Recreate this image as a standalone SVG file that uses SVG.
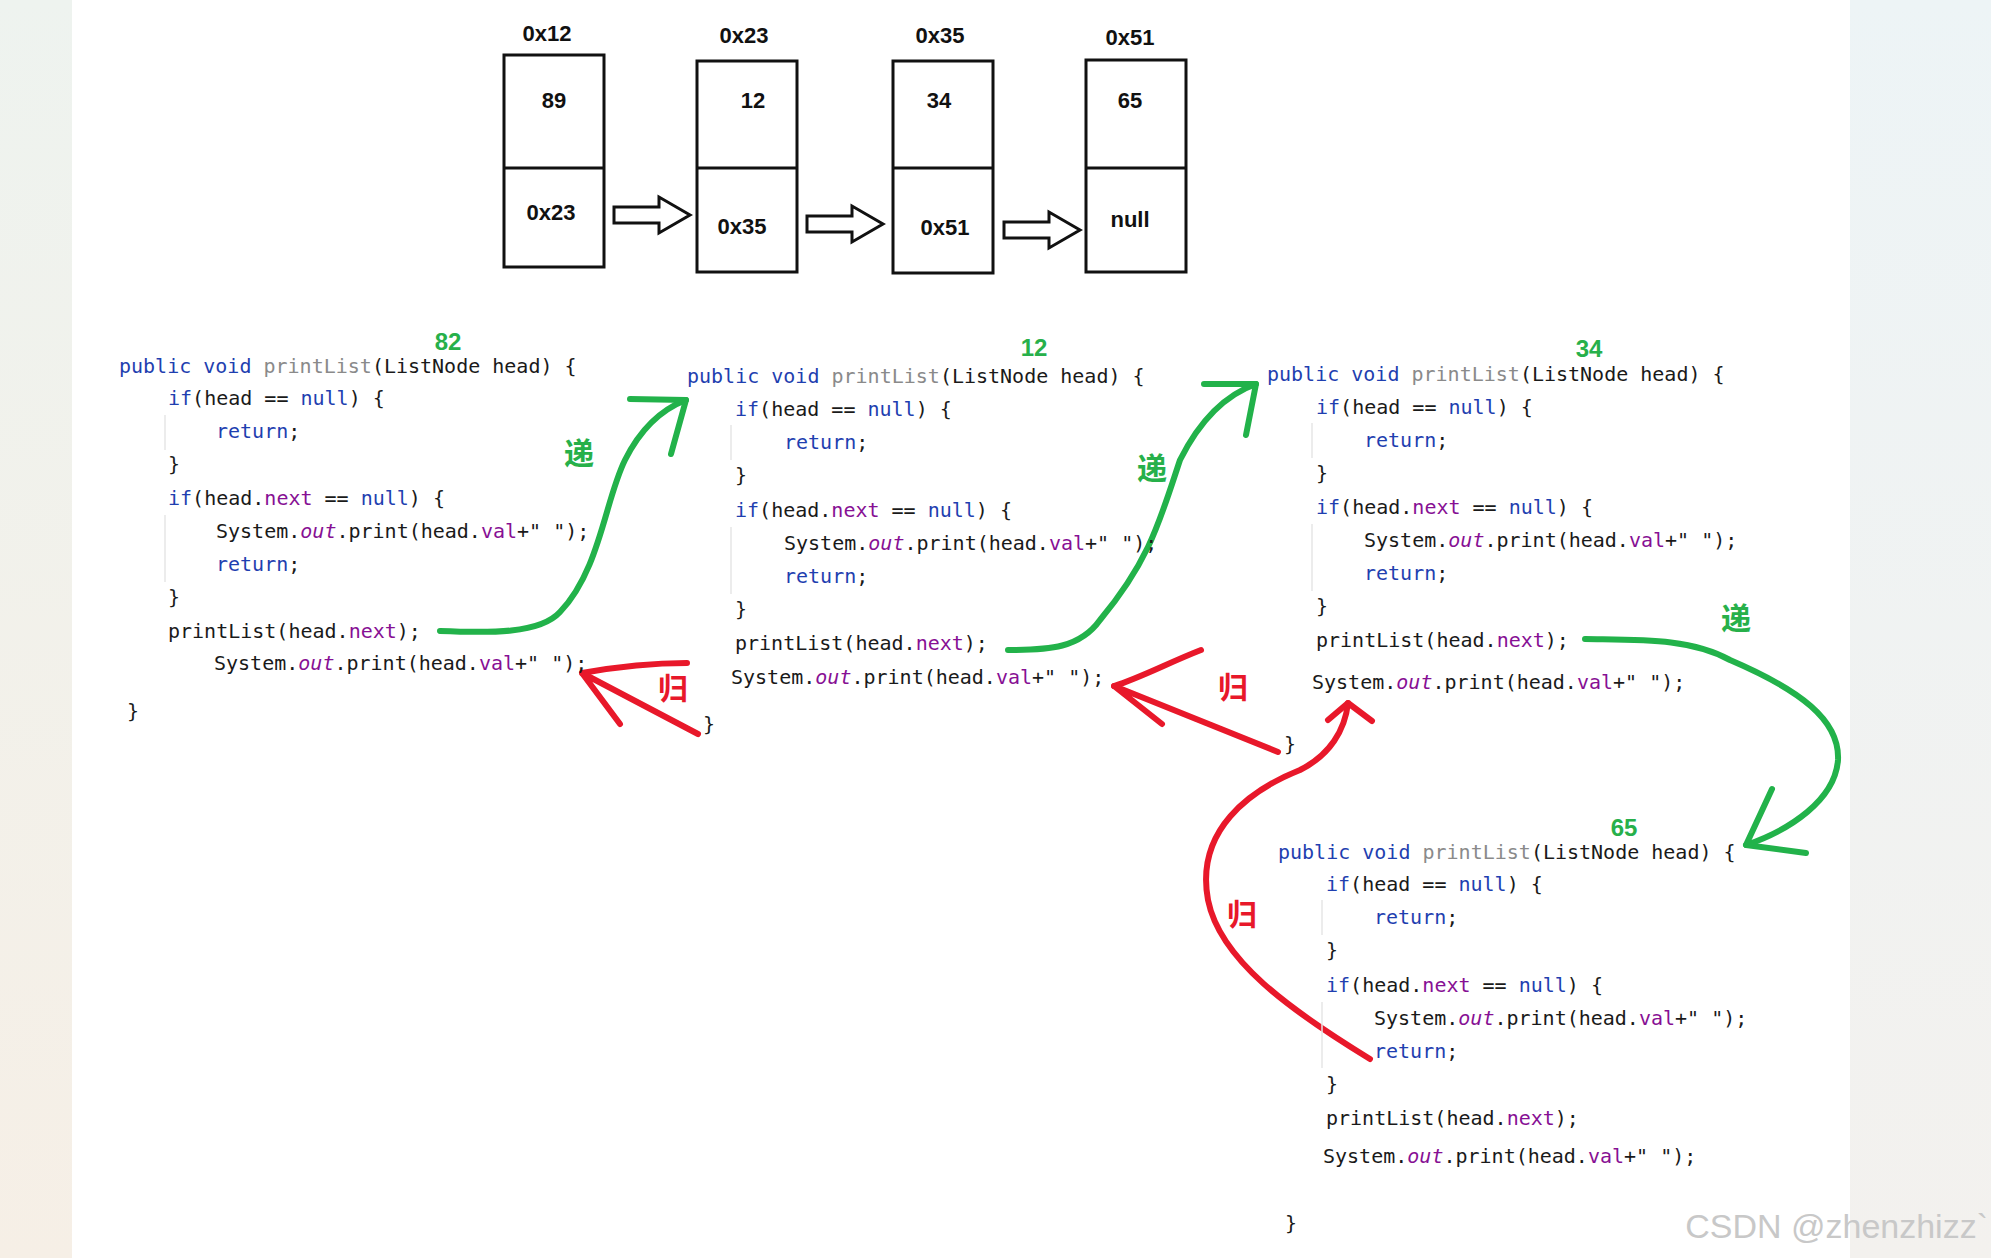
<svg xmlns="http://www.w3.org/2000/svg" width="1991" height="1258" viewBox="0 0 1991 1258">
<defs>
<linearGradient id="lg" x1="0" y1="0" x2="0" y2="1"><stop offset="0" stop-color="#eef3ef"/><stop offset="1" stop-color="#f6efe6"/></linearGradient>
<linearGradient id="rg" x1="0" y1="0" x2="0" y2="1"><stop offset="0" stop-color="#edf4f6"/><stop offset="1" stop-color="#f3f1ee"/></linearGradient>
</defs>
<style>
.box{fill:#fff;stroke:#111;stroke-width:3}
.lbl{font-family:"Liberation Sans",Arial,sans-serif;font-size:22px;font-weight:bold;fill:#111;text-anchor:middle;dominant-baseline:middle}
.code{font-family:"DejaVu Sans Mono","Liberation Mono",monospace;font-size:20px;fill:#1a1a1a}
.k{fill:#1f3fb0}.g{fill:#8a8a8a}.p{fill:#871094}.i{fill:#871094;font-style:italic}
.num{font-family:"Liberation Sans",Arial,sans-serif;font-size:24px;font-weight:bold;fill:#27b04a;text-anchor:middle}
.gr{fill:none;stroke:#22b24a;stroke-width:6;stroke-linecap:round;stroke-linejoin:round}
.rd{fill:none;stroke:#e8182a;stroke-width:6;stroke-linecap:round;stroke-linejoin:round}
.zg{font-family:"Noto Sans CJK SC",sans-serif;font-size:30px;font-weight:bold;fill:#27b04a;text-anchor:middle;dominant-baseline:middle}
.zr{font-family:"Noto Sans CJK SC",sans-serif;font-size:30px;font-weight:bold;fill:#e8182a;text-anchor:middle;dominant-baseline:middle}
.guide{stroke:#e6e6e6;stroke-width:1.5}
.hol{fill:#fff;stroke:#111;stroke-width:3;stroke-linejoin:miter}
</style>
<rect width="1991" height="1258" fill="#fff"/>
<rect x="0" y="0" width="72" height="1258" fill="url(#lg)"/>
<rect x="1850" y="0" width="141" height="1258" fill="url(#rg)"/>

<g id="node-0x12">
<text class="lbl" x="547" y="35">0x12</text>
<rect class="box" x="504" y="55" width="100" height="212"/><line class="box" x1="504" y1="168" x2="604" y2="168"/>
<text class="lbl" x="554" y="102">89</text><text class="lbl" x="551" y="214">0x23</text>
</g>
<g id="node-0x23">
<text class="lbl" x="744" y="37">0x23</text>
<rect class="box" x="697" y="61" width="100" height="211"/><line class="box" x1="697" y1="168" x2="797" y2="168"/>
<text class="lbl" x="753" y="102">12</text><text class="lbl" x="742" y="228">0x35</text>
</g>
<g id="node-0x35">
<text class="lbl" x="940" y="37">0x35</text>
<rect class="box" x="893" y="61" width="100" height="212"/><line class="box" x1="893" y1="168" x2="993" y2="168"/>
<text class="lbl" x="939" y="102">34</text><text class="lbl" x="945" y="229">0x51</text>
</g>
<g id="node-0x51">
<text class="lbl" x="1130" y="39">0x51</text>
<rect class="box" x="1086" y="60" width="100" height="212"/><line class="box" x1="1086" y1="168" x2="1186" y2="168"/>
<text class="lbl" x="1130" y="102">65</text><text class="lbl" x="1130" y="221">null</text>
</g>

<g id="connectors">
<path class="hol" d="M614 207 h45 v-10 l31 18 l-31 18 v-10 h-45 z"/>
<path class="hol" d="M807 216 h45 v-10 l31 18 l-31 18 v-10 h-45 z"/>
<path class="hol" d="M1004 222 h45 v-10 l31 18 l-31 18 v-10 h-45 z"/>

<path class="gr" d="M440 631 C490 633 540 634 560 612 C600 570 605 500 625 460 C640 430 660 410 686 400"/>
<path class="gr" d="M630 399 L686 400 L671 454"/>
<path class="gr" d="M1008 650 C1050 650 1080 648 1100 620 C1150 560 1160 520 1180 460 C1200 420 1225 395 1256 384"/>
<path class="gr" d="M1204 384 L1256 384 L1246 435"/>
<path class="gr" d="M1585 639 C1640 640 1690 638 1730 660 C1800 690 1840 720 1838 760 C1835 800 1790 830 1746 845"/>
<path class="gr" d="M1772 789 L1746 845 L1806 853"/>

<path class="rd" d="M687 663 C650 663 610 668 582 673"/>
<path class="rd" d="M698 734 L582 673 L620 724"/>
<path class="rd" d="M1201 650 C1170 662 1140 678 1114 686"/>
<path class="rd" d="M1278 752 L1114 686 L1162 724"/>
<path class="rd" d="M1370 1059 C1290 1010 1220 960 1208 900 C1195 830 1250 790 1300 770 C1330 755 1345 730 1348 703"/>
<path class="rd" d="M1328 720 L1348 703 L1372 721"/>
</g>

<g id="labels">
<text class="zg" x="579" y="456">递</text>
<text class="zg" x="1152" y="471">递</text>
<text class="zg" x="1736" y="621">递</text>
<text class="zr" x="673" y="691">归</text>
<text class="zr" x="1233" y="690">归</text>
<text class="zr" x="1242" y="917">归</text>
</g>

<g id="code-82">
<text class="num" x="448" y="350">82</text>
<line class="guide" x1="165" y1="415" x2="165" y2="450"/><line class="guide" x1="165" y1="515" x2="165" y2="582"/>
<g class="code">
<text x="119" y="373"><tspan class="k">public void </tspan><tspan class="g">printList</tspan>(ListNode head) {</text>
<text x="168" y="405"><tspan class="k">if</tspan>(head == <tspan class="k">null</tspan>) {</text>
<text x="216" y="438"><tspan class="k">return</tspan>;</text>
<text x="168" y="471">}</text>
<text x="168" y="505"><tspan class="k">if</tspan>(head.<tspan class="p">next</tspan> == <tspan class="k">null</tspan>) {</text>
<text x="216" y="538">System.<tspan class="i">out</tspan>.print(head.<tspan class="p">val</tspan>+" ");</text>
<text x="216" y="571"><tspan class="k">return</tspan>;</text>
<text x="168" y="604">}</text>
<text x="168" y="638">printList(head.<tspan class="p">next</tspan>);</text>
<text x="214" y="670">System.<tspan class="i">out</tspan>.print(head.<tspan class="p">val</tspan>+" ");</text>
<text x="127" y="718">}</text>
</g>
</g>

<g id="code-12">
<text class="num" x="1034" y="356">12</text>
<line class="guide" x1="731" y1="425" x2="731" y2="460"/><line class="guide" x1="731" y1="527" x2="731" y2="594"/>
<g class="code">
<text x="687" y="383"><tspan class="k">public void </tspan><tspan class="g">printList</tspan>(ListNode head) {</text>
<text x="735" y="416"><tspan class="k">if</tspan>(head == <tspan class="k">null</tspan>) {</text>
<text x="784" y="449"><tspan class="k">return</tspan>;</text>
<text x="735" y="482">}</text>
<text x="735" y="517"><tspan class="k">if</tspan>(head.<tspan class="p">next</tspan> == <tspan class="k">null</tspan>) {</text>
<text x="784" y="550">System.<tspan class="i">out</tspan>.print(head.<tspan class="p">val</tspan>+" ");</text>
<text x="784" y="583"><tspan class="k">return</tspan>;</text>
<text x="735" y="616">}</text>
<text x="735" y="650">printList(head.<tspan class="p">next</tspan>);</text>
<text x="731" y="684">System.<tspan class="i">out</tspan>.print(head.<tspan class="p">val</tspan>+" ");</text>
<text x="703" y="731">}</text>
</g>
</g>

<g id="code-34">
<text class="num" x="1589" y="357">34</text>
<line class="guide" x1="1312" y1="423" x2="1312" y2="458"/><line class="guide" x1="1312" y1="524" x2="1312" y2="591"/>
<g class="code">
<text x="1267" y="381"><tspan class="k">public void </tspan><tspan class="g">printList</tspan>(ListNode head) {</text>
<text x="1316" y="414"><tspan class="k">if</tspan>(head == <tspan class="k">null</tspan>) {</text>
<text x="1364" y="447"><tspan class="k">return</tspan>;</text>
<text x="1316" y="480">}</text>
<text x="1316" y="514"><tspan class="k">if</tspan>(head.<tspan class="p">next</tspan> == <tspan class="k">null</tspan>) {</text>
<text x="1364" y="547">System.<tspan class="i">out</tspan>.print(head.<tspan class="p">val</tspan>+" ");</text>
<text x="1364" y="580"><tspan class="k">return</tspan>;</text>
<text x="1316" y="613">}</text>
<text x="1316" y="647">printList(head.<tspan class="p">next</tspan>);</text>
<text x="1312" y="689">System.<tspan class="i">out</tspan>.print(head.<tspan class="p">val</tspan>+" ");</text>
<text x="1284" y="751">}</text>
</g>
</g>

<g id="code-65">
<text class="num" x="1624" y="836">65</text>
<line class="guide" x1="1322" y1="900" x2="1322" y2="935"/><line class="guide" x1="1322" y1="1002" x2="1322" y2="1068"/>
<g class="code">
<text x="1278" y="859"><tspan class="k">public void </tspan><tspan class="g">printList</tspan>(ListNode head) {</text>
<text x="1326" y="891"><tspan class="k">if</tspan>(head == <tspan class="k">null</tspan>) {</text>
<text x="1374" y="924"><tspan class="k">return</tspan>;</text>
<text x="1326" y="957">}</text>
<text x="1326" y="992"><tspan class="k">if</tspan>(head.<tspan class="p">next</tspan> == <tspan class="k">null</tspan>) {</text>
<text x="1374" y="1025">System.<tspan class="i">out</tspan>.print(head.<tspan class="p">val</tspan>+" ");</text>
<text x="1374" y="1058"><tspan class="k">return</tspan>;</text>
<text x="1326" y="1091">}</text>
<text x="1326" y="1125">printList(head.<tspan class="p">next</tspan>);</text>
<text x="1323" y="1163">System.<tspan class="i">out</tspan>.print(head.<tspan class="p">val</tspan>+" ");</text>
<text x="1285" y="1230">}</text>
</g>
</g>

<text x="1988" y="1238" text-anchor="end" font-family="Liberation Sans,Arial,sans-serif" font-size="34" fill="#c8c8c8">CSDN @zhenzhizz`</text>
</svg>
